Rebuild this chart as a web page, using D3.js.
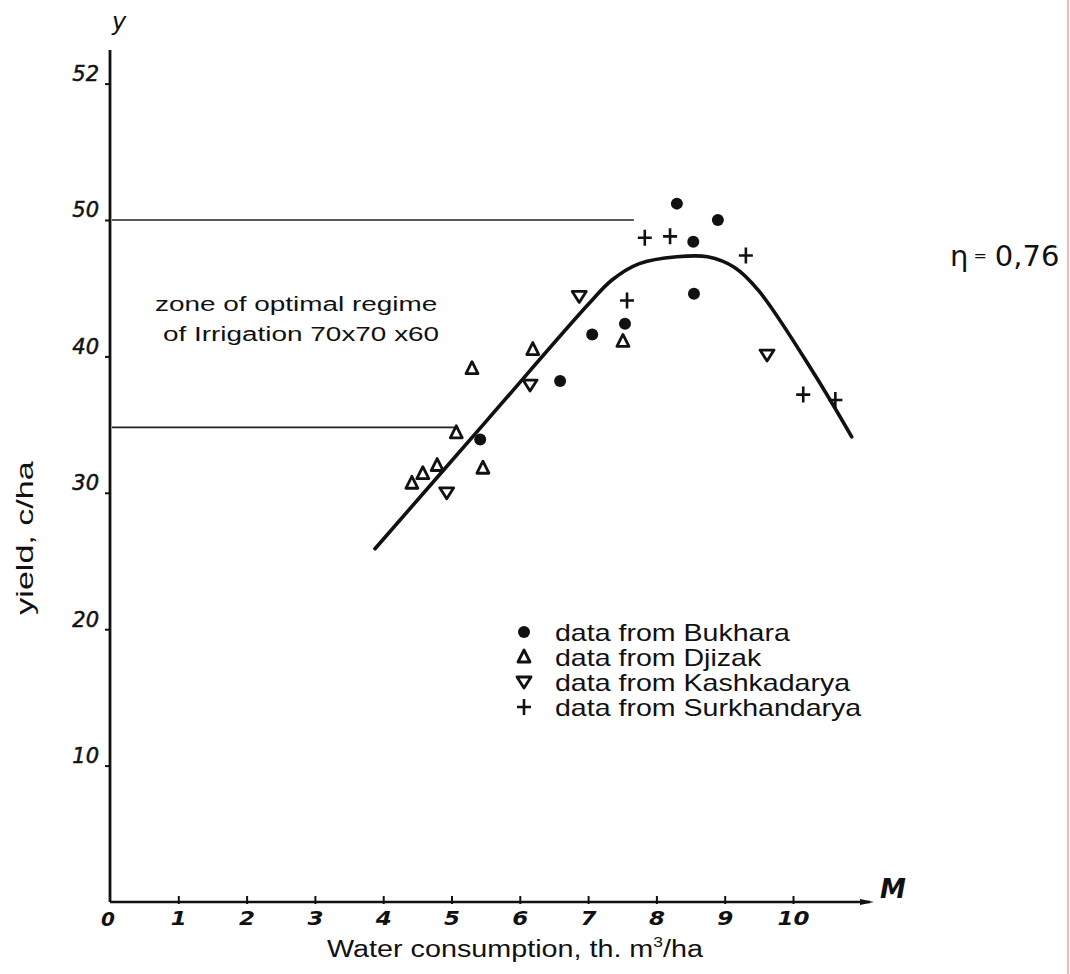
<!DOCTYPE html>
<html>
<head>
<meta charset="utf-8">
<script src="https://cdn.jsdelivr.net/npm/d3@7"></script>
<style>
  html, body { margin: 0; padding: 0; background: #fff; }
  svg { display: block; }
</style>
</head>
<body>
<svg id="chart" width="1070" height="974"></svg>
<script>
// Yield (c/ha) versus water consumption (th. m3/ha), by region
const bukharaX = [5.42, 6.59, 7.06, 7.54, 8.30, 8.54, 8.55, 8.90];
const bukharaY = [33.9, 38.2, 41.6, 42.4, 51.2, 48.4, 44.6, 50.0];

const djizakX = [4.42, 4.58, 4.79, 5.07, 5.46, 5.30, 6.19, 7.51];
const djizakY = [30.7, 31.4, 32.0, 34.4, 31.8, 39.1, 40.5, 41.1];

const kashkadaryaX = [4.93, 6.15, 6.87, 9.62];
const kashkadaryaY = [30.0, 37.9, 44.4, 40.1];

const surkhandaryaX = [7.57, 7.83, 8.20, 9.31, 10.15, 10.62];
const surkhandaryaY = [44.1, 48.7, 48.8, 47.4, 37.2, 36.8];

// Fitted yield curve
const curveX = [3.88, 5.5, 7.0, 7.35, 7.75, 8.3, 8.75, 9.15, 9.5, 10.3, 10.86];
const curveY = [25.9, 35.2, 43.8, 45.6, 46.8, 47.3, 47.3, 46.5, 44.8, 38.8, 34.1];

// Bounds of the optimal irrigation zone
const zoneYield = [34.8, 50];
const zoneWater = [5.05, 7.67];

const xTicks = [0, 1, 2, 3, 4, 5, 6, 7, 8, 9, 10];
const xTickLabels = ["0", "1", "2", "3", "4", "5", "6", "7", "8", "9", "10"];
const yTicks = [10, 20, 30, 40, 50, 60];
const yTickLabels = ["10", "20", "30", "40", "50", "52"];

const legendLabels = ["data from Bukhara", "data from Djizak", "data from Kashkadarya", "data from Surkhandarya"];

const svg = d3.select("#chart");
const x = d3.scaleLinear().domain([0, 10]).range([110, 793]);
const y = d3.scaleLinear().domain([0, 50]).range([902, 220]);

const ink = "#111";
const handFont = "'DejaVu Sans', sans-serif";
const textFont = "'Liberation Sans', Arial, sans-serif";

// Text placed with a horizontal stretch
function wideText(px, py, sx, size, str, anchor) {
  return svg.append("text")
    .attr("transform", `translate(${px},${py}) scale(${sx},1)`)
    .attr("font-family", textFont).attr("font-size", size)
    .attr("text-anchor", anchor || "start").attr("fill", ink).text(str);
}

// Axes
svg.append("line").attr("x1", x(0)).attr("x2", x(0))
  .attr("y1", y(0)).attr("y2", 50)
  .attr("stroke", ink).attr("stroke-width", 2.8);
svg.append("line").attr("x1", x(0)).attr("x2", 870)
  .attr("y1", y(0)).attr("y2", y(0))
  .attr("stroke", ink).attr("stroke-width", 2.3);
svg.append("path")
  .attr("d", `M860,${y(0) - 3} L874,${y(0)} L860,${y(0) + 3} Z`)
  .attr("fill", ink);

const xAxis = d3.axisBottom(x).tickValues(xTicks.slice(1))
  .tickFormat((d, i) => xTickLabels[i + 1]).tickSize(0).tickPadding(9);
const gx = svg.append("g").attr("transform", `translate(0,${y(0)})`).call(xAxis);
gx.select(".domain").remove();
gx.selectAll(".tick").append("line")
  .attr("y1", -6).attr("y2", 2).attr("stroke", ink).attr("stroke-width", 2);
gx.selectAll("text").attr("font-family", handFont).attr("font-style", "italic")
  .attr("font-size", 20).attr("font-weight", "bold").attr("fill", ink)
  .attr("transform", "scale(1.15,1)");
svg.append("text").attr("x", x(0) - 2).attr("y", y(0) + 24)
  .attr("font-family", handFont).attr("font-style", "italic").attr("font-weight", "bold")
  .attr("font-size", 20).attr("text-anchor", "middle").attr("fill", ink).text(xTickLabels[0]);

const yAxis = d3.axisLeft(y).tickValues(yTicks)
  .tickFormat((d, i) => yTickLabels[i]).tickSize(5).tickPadding(6);
const gy = svg.append("g").attr("transform", `translate(${x(0)},0)`).call(yAxis);
gy.select(".domain").remove();
gy.selectAll(".tick line").attr("stroke", ink).attr("stroke-width", 2);
gy.selectAll("text").attr("font-family", handFont).attr("font-style", "italic")
  .attr("font-size", 21).attr("fill", ink).attr("stroke", ink).attr("stroke-width", 0.5)
  .attr("dy", "-0.15em");

// Axis letters
svg.append("text").attr("x", 119).attr("y", 30)
  .attr("font-family", handFont).attr("font-style", "italic").attr("font-size", 24)
  .attr("text-anchor", "middle").attr("fill", ink).text("у");
svg.append("text").attr("x", 893).attr("y", 898)
  .attr("font-family", handFont).attr("font-style", "italic").attr("font-weight", "bold")
  .attr("font-size", 26).attr("text-anchor", "middle").attr("fill", ink).text("M");

// Axis titles
const xt = svg.append("text")
  .attr("transform", "translate(515,957) scale(1.25,1)")
  .attr("font-family", textFont).attr("font-size", 23).attr("text-anchor", "middle").attr("fill", ink);
xt.append("tspan").text("Water consumption, th. m");
xt.append("tspan").attr("font-size", 14).attr("dy", -10).text("3");
xt.append("tspan").attr("dy", 10).text("/ha");

svg.append("text")
  .attr("transform", "translate(33,538) rotate(-90) scale(1.42,1)")
  .attr("font-family", textFont).attr("font-size", 24).attr("text-anchor", "middle")
  .attr("fill", ink).text("yield, c/ha");

// Optimal zone guide lines
zoneYield.forEach((v, i) => {
  svg.append("line").attr("x1", x(0) + 2).attr("x2", x(zoneWater[i]))
    .attr("y1", y(v)).attr("y2", y(v))
    .attr("stroke", "#222").attr("stroke-width", 1.6);
});
wideText(155, 311, 1.33, 21, "zone of optimal regime");
wideText(163, 341, 1.33, 21, "of Irrigation 70x70 x60");

// Fitted curve
const curvePts = curveX.map((v, i) => [v, curveY[i]]);
svg.append("path")
  .attr("d", d3.line().x(d => x(d[0])).y(d => y(d[1])).curve(d3.curveCatmullRom.alpha(0.5))(curvePts))
  .attr("fill", "none").attr("stroke", ink).attr("stroke-width", 3.6).attr("stroke-linecap", "round");

// Marker shapes
function drawMarker(g, kind, cx, cy) {
  if (kind === "dot") {
    g.append("circle").attr("cx", cx).attr("cy", cy).attr("r", 6).attr("fill", ink);
  } else if (kind === "up") {
    g.append("path").attr("d", `M${cx},${cy - 7} L${cx + 6},${cy + 5} L${cx - 6},${cy + 5} Z`)
      .attr("fill", "none").attr("stroke", ink).attr("stroke-width", 2.8).attr("stroke-linejoin", "round");
  } else if (kind === "down") {
    g.append("path").attr("d", `M${cx - 7},${cy - 5} L${cx + 7},${cy - 5} L${cx},${cy + 6} Z`)
      .attr("fill", "none").attr("stroke", ink).attr("stroke-width", 2.8).attr("stroke-linejoin", "round");
  } else {
    g.append("path").attr("d", `M${cx - 7},${cy} L${cx + 7},${cy} M${cx},${cy - 8} L${cx},${cy + 8}`)
      .attr("stroke", ink).attr("stroke-width", 2.6);
  }
}

const series = [
  { kind: "dot", xs: bukharaX, ys: bukharaY },
  { kind: "up", xs: djizakX, ys: djizakY },
  { kind: "down", xs: kashkadaryaX, ys: kashkadaryaY },
  { kind: "plus", xs: surkhandaryaX, ys: surkhandaryaY }
];
const marks = svg.append("g");
series.forEach(s => s.xs.forEach((v, i) => drawMarker(marks, s.kind, x(v), y(s.ys[i]))));

// Legend
const legend = svg.append("g");
series.forEach((s, i) => {
  const ly = 632 + i * 25;
  drawMarker(legend, s.kind, 524, ly);
  wideText(555, ly + 9, 1.19, 24, legendLabels[i]);
});

// Correlation ratio
const eta = svg.append("text").attr("x", 950).attr("y", 266)
  .attr("font-family", handFont).attr("font-size", 29).attr("fill", ink);
eta.append("tspan").text("η");
eta.append("tspan").attr("font-size", 16).attr("dx", 5).attr("dy", -5).text("=");
eta.append("tspan").attr("dx", 8).attr("dy", 5).text("0,76");

// Page edge rule
svg.append("line").attr("x1", 1068).attr("x2", 1068).attr("y1", 0).attr("y2", 974)
  .attr("stroke", "#e9a3a3").attr("stroke-width", 1.5);
</script>
</body>
</html>
